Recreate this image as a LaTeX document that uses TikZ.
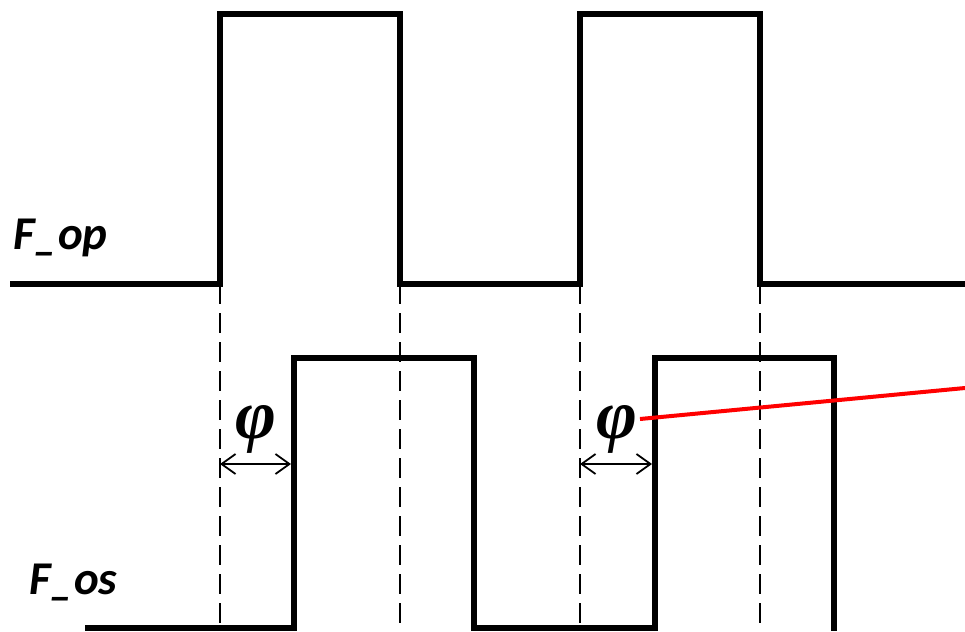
\documentclass[tikz,border=0pt]{standalone}
\usepackage{fontspec}
\newfontfamily\labelfont{Carlito}
\newfontfamily\phifont{Liberation Serif}
\usetikzlibrary{arrows.meta}

\begin{document}
\begin{tikzpicture}[x=1pt, y=-1pt,
        signal/.style={line width=6pt, line join=miter},
        guide/.style={line width=2pt, dash pattern=on 20pt off 9pt},
        phase/.style={{Straight Barb[length=14pt,width=20pt]}-{Straight Barb[length=14pt,width=20pt]}, line width=1.8pt},
        lbl/.style={font=\labelfont\bfseries\itshape\fontsize{47}{47}\selectfont,
                    anchor=base west, inner sep=0pt},
        phi/.style={font=\phifont\bfseries\itshape\fontsize{70}{70}\selectfont, inner sep=0pt}]
    \useasboundingbox (0,0) rectangle (965,631);
    % reference signal
    \draw[signal] (10,284) -- (220,284) -- (220,14) -- (400,14) -- (400,284)
        -- (580,284) -- (580,14) -- (760,14) -- (760,284) -- (965,284);
    % shifted signal
    \draw[signal] (85,628) -- (294,628) -- (294,358) -- (474,358) -- (474,628)
        -- (655,628) -- (655,358) -- (834,358) -- (834,631);

    \foreach \x in {220,400,580,760} {
            \draw[guide] (\x,284) -- (\x,631);
        }

    \foreach \i/\a/\b in {1/220/291, 2/580/652} {
            \coordinate (L\i) at (\a,464);
            \coordinate (R\i) at (\b,464);
            \draw[phase] (L\i) -- (R\i);
        }
    \node[phi, anchor=base] (P1) at (256,438) {φ};
    \node[phi, anchor=base] (P2) at (617,438) {φ};

    \coordinate (E) at (965,388);
    \draw[red, line width=4pt] (640,419) -- (E);

    \node[lbl] (Fop) at (13,249) {F\_op};
    \node[lbl] (Fos) at (29,594) {F\_os};
\end{tikzpicture}
\end{document}
